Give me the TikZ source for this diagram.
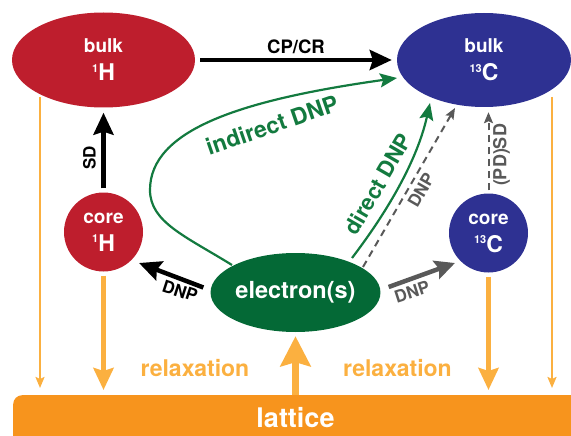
\documentclass[tikz,border=0pt]{standalone}
\usepackage{fontspec}
\setmainfont{TeX Gyre Heros}
\usetikzlibrary{arrows.meta,calc,shapes.geometric}

\definecolor{hred}{HTML}{BE1E2D}
\definecolor{cblue}{HTML}{2E3192}
\definecolor{egreen}{HTML}{046936}
\definecolor{dgreen}{HTML}{137A3F}
\definecolor{latorange}{HTML}{F7941D}
\definecolor{relorange}{HTML}{FBB040}
\definecolor{dgray}{HTML}{595959}

\newcommand{\fsz}[1]{\fontsize{#1}{#1}\selectfont}
\newcommand{\iso}[2]{{\fsz{11}\raisebox{8.5pt}{#1}}{\fsz{23}#2}}

\begin{document}
\begin{tikzpicture}[x=1pt,y=-1pt,
  ellnode/.style={ellipse, inner sep=0pt, text=white, align=center,
    font=\fontsize{19}{28}\selectfont\bfseries},
  circnode/.style={circle, inner sep=0pt, minimum size=79pt, text=white,
    align=center, font=\fontsize{19}{28}\selectfont\bfseries},
  lbl/.style={inner sep=0pt, font=\fsz{17}\bfseries},
  blackarrow/.style={draw=black, line width=4.5pt,
    -{Stealth[length=22pt,width=20pt,inset=3pt]}},
  grayarrow/.style={draw=dgray, line width=4.5pt,
    -{Stealth[length=20pt,width=19pt,inset=3pt]}},
  greenarrow/.style={draw=dgreen, line width=2.2pt,
    -{Stealth[length=17pt,width=14pt,inset=3pt]}},
  dashedarrow/.style={draw=dgray, line width=2pt, dash pattern=on 7pt off 5pt,
    -{Stealth[length=11pt,width=9pt,inset=2pt]}},
  relaxthick/.style={draw=relorange, line width=5pt,
    -{Stealth[length=22pt,width=20pt,inset=3pt]}},
  relaxthin/.style={draw=relorange, line width=2pt,
    -{Stealth[length=11pt,width=9pt,inset=2pt]}},
]
\useasboundingbox (0,0) rectangle (571,436);

% spin reservoirs
\node[ellnode, fill=hred, minimum width=183pt, minimum height=95pt] (b1) at (103.5,60)
  {bulk\\\iso{1}{H}};
\node[ellnode, fill=cblue, minimum width=174pt, minimum height=94pt] (b13) at (484,60)
  {bulk\\\iso{13}{C}};
\node[circnode, fill=hred] (c1) at (103.5,232) {core\\\iso{1}{H}};
\node[circnode, fill=cblue] (c13) at (488.5,233) {core\\\iso{13}{C}};
\node[ellipse, inner sep=0pt, fill=egreen, text=white, minimum width=153pt,
  minimum height=79pt, font=\fsz{23.5}\bfseries] (el) at (295.5,292.5) {electron(s)};

% lattice bar
\node[fill=latorange, rounded corners=9pt, minimum width=580pt, minimum height=60pt,
  anchor=north west, inner sep=0pt] (lat) at (13,395) {};
\node[text=white, font=\fsz{27}\bfseries, inner sep=0pt] (lattxt) at (295.5,418) {lattice};

% free ends of the thin relaxation lines
\coordinate (lt) at (40,97);
\coordinate (rt) at (552,97);

% transfer arrows
\draw[blackarrow, shorten <=5pt, shorten >=5pt] (b1) -- (b13);
\node[lbl, font=\fsz{18.5}\bfseries] (cpcr) at (296,46.5) {CP/CR};

\draw[blackarrow, shorten <=4pt, shorten >=5pt] (c1) -- (b1);
\node[lbl, rotate=90] (sd) at (89.5,158) {SD};

\draw[blackarrow] ($(el.west)+(-7,-5)$) -- ($(c1.center)+(35.5,31)$);
\node[lbl, rotate=-18] (dnp1) at (180,291) {DNP};

\draw[grayarrow] ($(el.east)+(8,-5.5)$) -- ($(c13.center)+(-33.5,30)$);
\node[lbl, rotate=18, text=dgray] (dnp2) at (412,292) {DNP};

\draw[greenarrow] ($(el.center)+(56.5,-34.5)$) .. controls (381,220) and (416,166)
  .. ($(b13.center)+(-54,43)$);
\node[lbl, rotate=60, text=dgreen, font=\fsz{22}\bfseries] (ddnp) at (378,184) {direct DNP};

\draw[dashedarrow] ($(el.center)+(67.5,-25.5)$) -- ($(b13.center)+(-29,48)$);
\node[lbl, rotate=60, text=dgray] (dnp3) at (421,190) {DNP};

\draw[dashedarrow, shorten <=3pt, shorten >=5pt] (c13.north) -- (c13.north |- b13.south);
\node[lbl, rotate=90, text=dgray, font=\fsz{18}\bfseries] (pdsd) at (501.5,155) {(PD)SD};

\draw[greenarrow] ($(el.center)+(-63.5,-27.5)$) .. controls (185,236) and (150,222) .. (150,190)
  .. controls (150,130) and (240,100) .. ($(b13.center)+(-87,18)$);
\node[lbl, rotate=19, text=dgreen, font=\fsz{23}\bfseries] (idnp) at (272,125) {indirect DNP};

% relaxation to the lattice
\draw[relaxthin, shorten >=7pt] (lt) -- (lt |- lat.north);
\draw[relaxthin, shorten >=7pt] (rt) -- (rt |- lat.north);
\draw[relaxthick, shorten <=4pt, shorten >=5pt] (c1) -- (c1 |- lat.north);
\draw[relaxthick, shorten <=4pt, shorten >=5pt] (c13) -- (c13 |- lat.north);
\draw[draw=relorange, line width=7pt, -{Stealth[length=30pt,width=30pt,inset=4pt]},
  shorten >=4pt] (el |- lat.north) -- (el);
\node[lbl, text=relorange, font=\fsz{23}\bfseries] (rl) at (195,368) {relaxation};
\node[lbl, text=relorange, font=\fsz{23}\bfseries] (rr) at (397.5,368) {relaxation};
\end{tikzpicture}
\end{document}
